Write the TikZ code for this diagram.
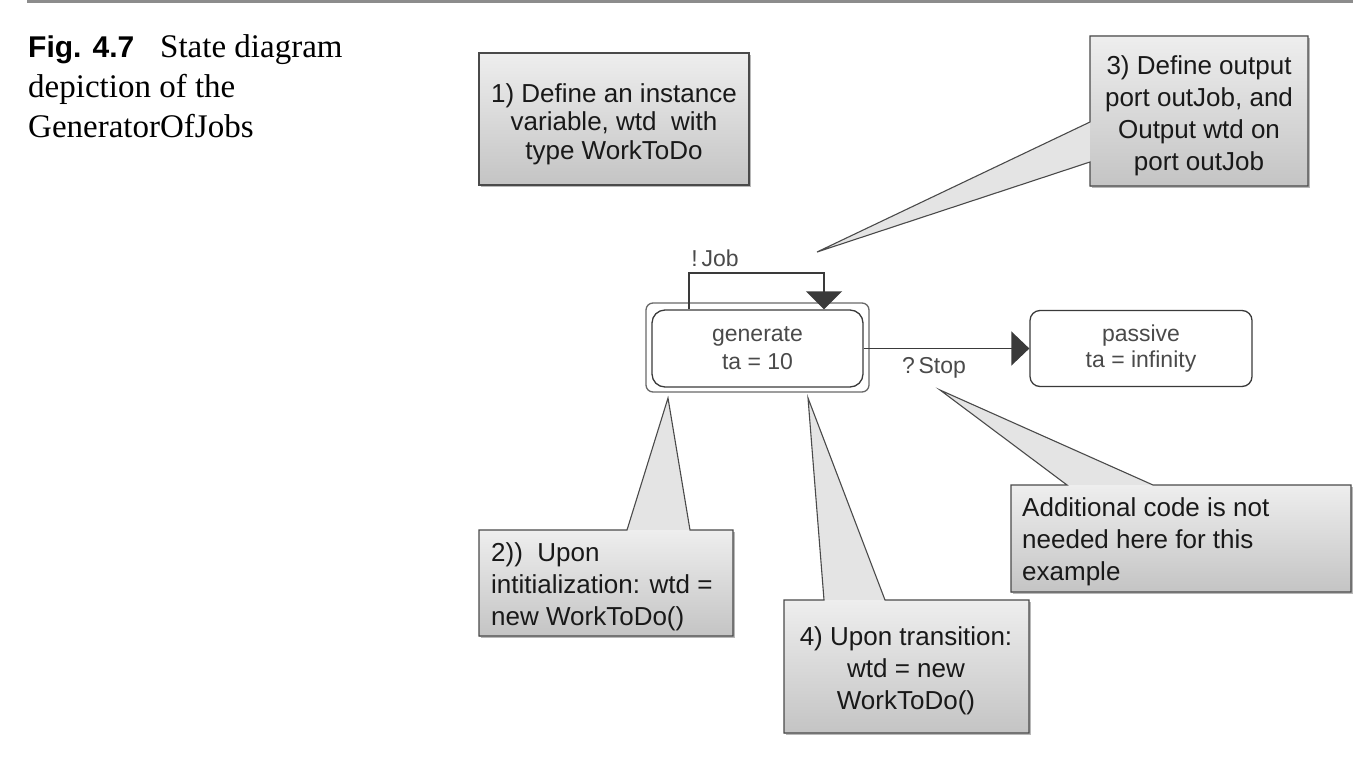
\documentclass[tikz,border=0pt]{standalone}
\usepackage{fontspec}
\setmainfont{Liberation Serif}
\newfontfamily\arialf{Liberation Sans}
\usetikzlibrary{arrows.meta}
\definecolor{boxline}{HTML}{4A4A4A}
\definecolor{boxtop}{HTML}{EEEEEE}
\definecolor{boxbot}{HTML}{C4C4C4}
\definecolor{ptrfill}{HTML}{E4E4E4}
\definecolor{shadowc}{HTML}{B8B8B8}
\definecolor{stateline}{HTML}{3A3A3A}
\definecolor{stateouter}{HTML}{686868}
\definecolor{statetext}{HTML}{4A4A4A}
\definecolor{rulegray}{HTML}{8C8C8C}
\begin{document}
\begin{tikzpicture}[x=1pt,y=-1pt,
  calloutline/.style={draw=boxline, line width=1.1pt, line join=miter},
  notetext/.style={font=\arialf\fontsize{26}{32}\selectfont, text=black!90, inner sep=0pt},
  capt/.style={font=\fontsize{33}{40}\selectfont, inner sep=0pt, anchor=base west},
  stateinner/.style={draw=stateline, line width=1.3pt, rounded corners=13pt, minimum width=211pt, minimum height=77pt, inner sep=0pt, align=center, text=statetext, font=\arialf\fontsize{23}{28}\selectfont},
  stateouterbox/.style={draw=stateouter, line width=1.3pt, rounded corners=7pt, minimum width=223pt, minimum height=89pt, inner sep=0pt},
  statepas/.style={draw=stateline, line width=1.3pt, rounded corners=10pt, minimum width=222pt, minimum height=76pt, inner sep=0pt, align=center, text=statetext, font=\arialf\fontsize{23}{26}\selectfont},
  lbl/.style={text=statetext, font=\arialf\fontsize{23}{28}\selectfont, inner sep=0pt},
  conn/.style={draw=stateline, line width=1.4pt, line join=miter},
]
\useasboundingbox (0,0) rectangle (1372,760);

% top rule
\coordinate (ruleL) at (27,1.5);
\coordinate (ruleR) at (1353,1.5);
\draw[rulegray, line width=3pt] (ruleL) -- (ruleR);

% caption
\node[capt, font=\arialf\bfseries\fontsize{30}{35}\selectfont] (figno) at (28,57) {Fig. 4.7};
\node[capt] (capt1) at (160,57) {State diagram};
\node[capt] (capt2) at (28,97) {depiction of the};
\node[capt] (capt3) at (28,137) {GeneratorOfJobs};

% callout tips
\coordinate (tip3) at (817,252);
\coordinate (tip2) at (668,398);
\coordinate (tip4) at (808,398);
\coordinate (tip5) at (940,390);

% box 1
\fill[shadowc] (481,55) rectangle (751,187);
\shade[top color=boxtop, bottom color=boxbot] (479,53) rectangle (749,185);
\draw[calloutline] (479,53) rectangle (749,185);
\node[notetext, align=center, font=\arialf\fontsize{26}{28.5}\selectfont] (n1) at (614,124) {1) Define an instance\\variable, wtd\ \ with\\type WorkToDo};

% box 3
\fill[shadowc] (1092,38) rectangle (1310,188);
\fill[ptrfill] (1090,162) -- (tip3) -- (1090,122) -- cycle;
\shade[top color=boxtop, bottom color=boxbot] (1090,36) rectangle (1308,186);
\draw[calloutline] (1090,36) -- (1308,36) -- (1308,186) -- (1090,186) -- (1090,162) -- (tip3) -- (1090,122) -- cycle;
\node[notetext, align=center] (n3) at (1199,116) {3) Define output\\port outJob, and\\Output wtd on\\port outJob};

% box 2
\fill[shadowc] (481,532) rectangle (735,638);
\fill[ptrfill] (627,530) -- (tip2) -- (690,530) -- cycle;
\shade[top color=boxtop, bottom color=boxbot] (479,530) rectangle (733,636);
\draw[calloutline] (479,530) -- (627,530) -- (tip2) -- (690,530) -- (733,530) -- (733,636) -- (479,636) -- cycle;
\node[notetext, align=left, anchor=west] (n2) at (491,587) {2))\ \ Upon\\intitialization: wtd =\\new WorkToDo()};

% box 4
\fill[shadowc] (786,602) rectangle (1031,735);
\fill[ptrfill] (824,600) -- (tip4) -- (885,600) -- cycle;
\shade[top color=boxtop, bottom color=boxbot] (784,600) rectangle (1029,733);
\draw[calloutline] (784,600) -- (824,600) -- (tip4) -- (885,600) -- (1029,600) -- (1029,733) -- (784,733) -- cycle;
\node[notetext, align=center] (n4) at (906,671) {4) Upon transition:\\wtd = new\\WorkToDo()};

% box 5
\fill[shadowc] (1013,487) rectangle (1353,594);
\fill[ptrfill] (1067,485) -- (tip5) -- (1153,485) -- cycle;
\shade[top color=boxtop, bottom color=boxbot] (1011,485) rectangle (1351,592);
\draw[calloutline] (1011,485) -- (1067,485) -- (tip5) -- (1153,485) -- (1351,485) -- (1351,592) -- (1011,592) -- cycle;
\node[notetext, align=left, anchor=west] (n5) at (1022,542) {Additional code is not\\needed here for this\\example};

% states
\node[stateouterbox] (genout) at (757.5,347.5) {};
\node[stateinner] (gen) at (757.5,348.5) {generate\\ta = 10};
\node[statepas] (pas) at (1141,348.5) {passive\\ta = infinity};

% self loop
\coordinate (loopL) at (689,273);
\coordinate (loopR) at (824,273);
\draw[conn, -{Triangle[length=18pt,width=36pt]}] (gen.north -| loopL) -- (loopL) -- (loopR) -- (gen.north -| loopR);
\node[lbl] (joblbl) at (715,258) {!\,Job};

% transition
\draw[conn, -{Triangle[length=18pt,width=34pt]}] (gen.east) -- (pas.west);
\node[lbl] (stoplbl) at (934,368) {?\,Stop};
\end{tikzpicture}
\end{document}
